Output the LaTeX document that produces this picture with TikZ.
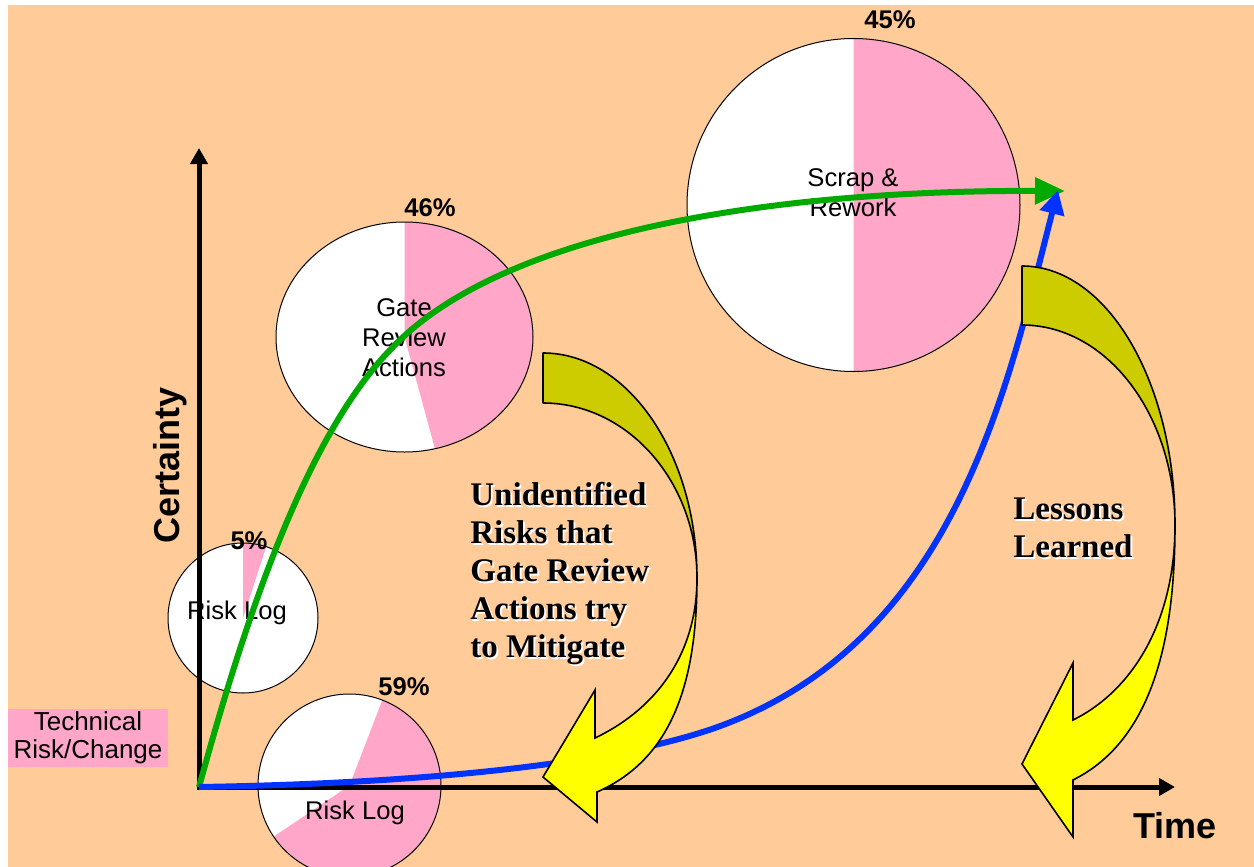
\documentclass[tikz,border=0pt]{standalone}
\usepackage{fontspec}
\setmainfont{Liberation Sans}
\newfontfamily\serifbold{Liberation Serif}
\usetikzlibrary{arrows.meta}
\definecolor{peach}{RGB}{255,204,153}
\definecolor{slicepink}{RGB}{255,166,201}
\definecolor{curvegreen}{RGB}{0,170,0}
\definecolor{curveblue}{RGB}{0,51,255}
\definecolor{backyellow}{RGB}{204,204,0}
\definecolor{frontyellow}{RGB}{255,255,0}
\tikzset{
    axis/.style={line width=2.5pt, line cap=rect, -{Triangle[length=8pt, width=8.5pt]}},
    pieline/.style={draw=black, line width=0.5pt},
    pietext/.style={font=\fontsize{12.8}{15}\selectfont, align=center, inner sep=0pt},
    pct/.style={font=\fontsize{12.8}{15}\selectfont\bfseries, inner sep=0pt},
    legend/.style={fill=slicepink, minimum width=80pt, minimum height=29pt, inner sep=0pt, align=center, font=\fontsize{13}{14}\selectfont},
    greenpath/.style={line width=3pt, curvegreen, -{Triangle[length=15pt, width=13pt]}},
    bluepath/.style={line width=3pt, curveblue, -{Triangle[length=12pt, width=12pt]}},
    backband/.style={fill=backyellow, draw=black, line width=0.8pt, line join=round},
    frontband/.style={fill=frontyellow, draw=black, line width=0.8pt, line join=miter},
    note/.style={font=\serifbold\fontsize{16.5}{19}\selectfont\bfseries, align=left, anchor=west, inner sep=0pt},
    noteshadow/.style={note, text=white, xshift=0.9pt, yshift=-0.9pt},
    axlabel/.style={font=\fontsize{18}{20}\selectfont\bfseries, inner sep=0pt}
}
\begin{document}
\begin{tikzpicture}[x=0.5pt, y=-0.5pt]
    \useasboundingbox (0,0) rectangle (1254,867);
    \fill[peach] (8,5) rectangle (1254,867);

    \node[legend] (techrisk) at (88,738) {Technical\\Risk/Change};

    % pies
    \coordinate (riskA) at (243,618);
    \coordinate (gate) at (404.5,337);
    \coordinate (scrap) at (853.5,205);
    \coordinate (riskB) at (349.5,785.5);

    \fill[white] (riskA) circle[radius=75];
    \fill[slicepink] (riskA) -- ++(-90:75) arc[start angle=-90, end angle=-72, radius=75] -- cycle;
    \draw[pieline] (riskA) circle[radius=75];

    \fill[white] (gate) ellipse[x radius=128.5, y radius=115];
    \fill[slicepink] (gate) -- ++(0,-115) arc[start angle=-90, end angle=76.3, x radius=128.5, y radius=115] -- cycle;
    \draw[pieline] (gate) ellipse[x radius=128.5, y radius=115];

    \fill[white] (scrap) circle[radius=166.5];
    \fill[slicepink] (scrap) -- ++(0,-166.5) arc[start angle=-90, end angle=90, radius=166.5] -- cycle;
    \draw[pieline] (scrap) circle[radius=166.5];

    \fill[white] (riskB) circle[radius=91.5];
    \fill[slicepink] (riskB) -- ++(-69:91.5) arc[start angle=-69, end angle=146, radius=91.5] -- cycle;
    \draw[pieline] (riskB) circle[radius=91.5];

    \node[pct] (pctA) at (249,541) {5\%};
    \node[pct] (pctgate) at (430,208) {46\%};
    \node[pct] (pctscrap) at (890,20) {45\%};
    \node[pct] (pctB) at (404,687) {59\%};

    % axes
    \coordinate (origin) at (199,787);
    \coordinate (ytop) at (199,148);
    \coordinate (xend) at (1175,787);
    \draw[axis] (origin) -- (ytop);
    \draw[axis] (origin) -- (xend);

    \node[pietext] (rlogA) at (237,613) {Risk Log};
    \node[pietext] (gatetxt) at (404,338) {Gate\\Review\\Actions};
    \node[pietext] (scraptxt) at (853,193) {Scrap \&\\Rework};
    \node[pietext] (rlogB) at (355,813) {Risk Log};

    % curves
    \coordinate (greenend) at (1065,191);
    \coordinate (blueend) at (1058,190);
    \draw[greenpath] (origin) .. controls (239,642) and (301,439) .. (393,347)
        .. controls (500,235) and (760,190) .. (greenend);
    \draw[bluepath] (origin) .. controls (450,783) and (630,760) .. (723,725)
        .. controls (957,637) and (1008,384) .. (blueend);

    % curved arrows
    \filldraw[backband] (543,353) .. controls (628,353) and (697,454) .. (697,578)
        .. controls (697,482) and (628,403) .. (543,403) -- cycle;
    \filldraw[frontband] (697,578) .. controls (697,695) and (665,762) .. (597,792) -- (597,822) -- (543,777)
        -- (595,690) -- (595,738) .. controls (650,712) and (697,660) .. (697,578) -- cycle;

    \filldraw[backband] (1022,266) .. controls (1107,266) and (1175,382) .. (1175,525)
        .. controls (1175,415) and (1107,325) .. (1022,325) -- cycle;
    \filldraw[frontband] (1175,525) .. controls (1175,660) and (1143,745) .. (1073,780) -- (1073,837) -- (1022,764)
        -- (1073,663) -- (1073,720) .. controls (1130,692) and (1175,625) .. (1175,525) -- cycle;

    % labels
    \node[noteshadow] at (470,574) {Unidentified\\Risks that\\Gate Review\\Actions try\\to Mitigate};
    \node[note] (unident) at (470,574) {Unidentified\\Risks that\\Gate Review\\Actions try\\to Mitigate};
    \node[noteshadow] at (1013,528) {Lessons\\Learned};
    \node[note] (lessons) at (1013,528) {Lessons\\Learned};

    \node[axlabel, rotate=90] (certainty) at (170,465) {Certainty};
    \node[axlabel] (time) at (1175,826) {Time};
\end{tikzpicture}
\end{document}
